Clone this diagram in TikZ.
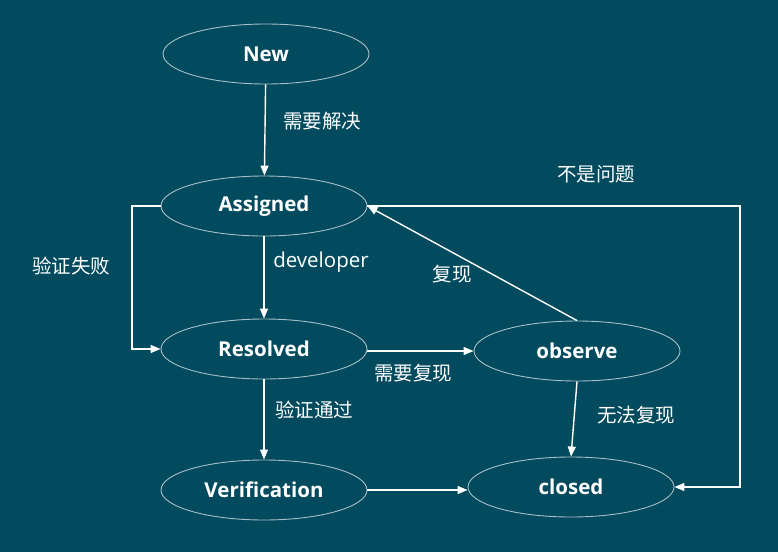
\documentclass[tikz,border=0pt]{standalone}
\usepackage{fontspec}
\setmainfont{Open Sans}
\newfontfamily\cjk{Noto Sans CJK SC}
\usetikzlibrary{shapes.geometric,arrows.meta}
\definecolor{bg}{HTML}{024A5E}
\definecolor{rim}{HTML}{A9BFC7}
\tikzset{
  state/.style={ellipse,draw=rim,line width=0.9pt,minimum width=206pt,minimum height=60pt,inner sep=0pt,
    text=white,font=\fontsize{20.5}{24}\selectfont\bfseries},
  conn/.style={draw=white,line width=1.4pt,-{Triangle[length=10pt,width=8pt]}},
  lbl/.style={text=white,font=\fontsize{19.5}{22}\selectfont\cjk,inner sep=0pt},
  elbl/.style={text=white,font=\fontsize{20.5}{24}\selectfont,inner sep=0pt}
}
\begin{document}
\begin{tikzpicture}[x=1pt,y=-1pt]
\fill[bg] (0,0) rectangle (778,552);
\useasboundingbox (0,0) rectangle (778,552);
\node[state] (new) at (266,54) {New};
\node[state] (assigned) at (264,206) {Assigned};
\node[state] (resolved) at (264,349) {Resolved};
\node[state] (verification) at (264,490) {Verification};
\node[state] (observe) at (577,351) {observe};
\node[state] (closed) at (571,487) {closed};
\coordinate (rt) at (740,0);
\coordinate (lt) at (132,0);
\draw[conn] (new) -- (assigned);
\draw[conn] (assigned) -- (resolved);
\draw[conn] (resolved) -- (verification);
\draw[conn] (observe.west -| resolved.east) -- (observe.west);
\draw[conn] (verification.east) -- (verification.east -| closed.west);
\draw[conn] (observe.north) -- (assigned.east);
\draw[conn] (observe.south) -- (closed.north);
\draw[conn] (assigned.west) -- (assigned.west -| lt) |- (resolved.west);
\draw[conn] (assigned.east) -- (assigned.east -| rt) |- (closed.east);
\node[lbl] (l1) at (322,121) {需要解决};
\node[elbl] (l2) at (321,262) {developer};
\node[lbl] (l3) at (314,410) {验证通过};
\node[lbl] (l4) at (413,373) {需要复现};
\node[lbl] (l5) at (452,274) {复现};
\node[lbl] (l6) at (636,415) {无法复现};
\node[lbl] (l7) at (71,266) {验证失败};
\node[lbl] (l8) at (596,174) {不是问题};
\end{tikzpicture}
\end{document}
